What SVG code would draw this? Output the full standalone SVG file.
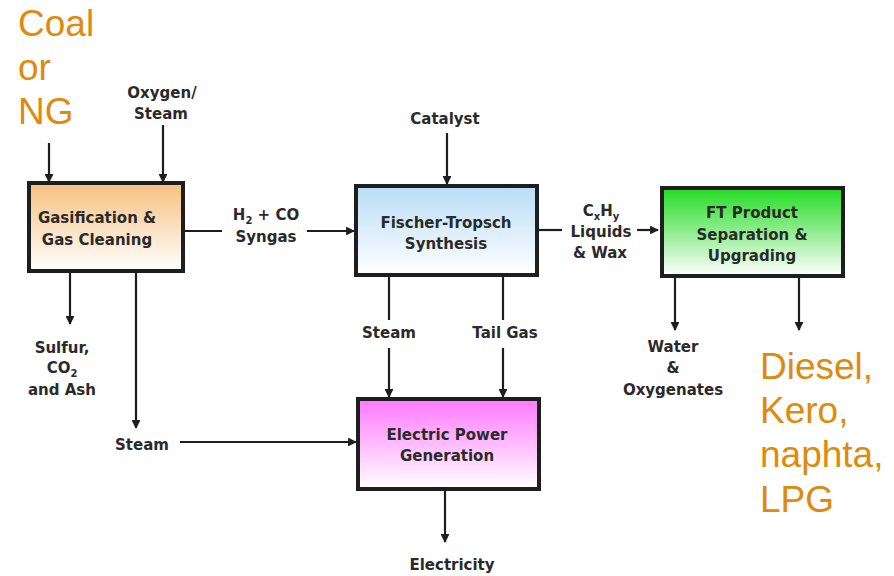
<svg xmlns="http://www.w3.org/2000/svg" width="894" height="576" viewBox="0 0 894 576">
<defs>
<style>
.t{font-family:"DejaVu Sans",sans-serif;font-weight:bold;font-size:15px;fill:#2a2a2a;text-anchor:middle}
.o{font-family:"Liberation Sans",Arial,sans-serif;font-size:37px;fill:#E08A0C}
.box{stroke:#1e1e1e;stroke-width:4}
.ln{stroke:#1e1e1e;stroke-width:2.2;fill:none}
.sub{font-size:10px}
</style>
<linearGradient id="gOr" x1="0" y1="0" x2="0" y2="1"><stop offset="0" stop-color="#F6C080"/><stop offset="1" stop-color="#FFFFFF"/></linearGradient>
<linearGradient id="gBl" x1="0" y1="0" x2="0" y2="1"><stop offset="0" stop-color="#B8DDF6"/><stop offset="1" stop-color="#FFFFFF"/></linearGradient>
<linearGradient id="gGr" x1="0" y1="0" x2="0" y2="1"><stop offset="0" stop-color="#22DC22"/><stop offset="1" stop-color="#FFFFFF"/></linearGradient>
<linearGradient id="gPk" x1="0" y1="0" x2="0" y2="1"><stop offset="0" stop-color="#FF78FF"/><stop offset="1" stop-color="#FFFFFF"/></linearGradient>
<marker id="ah" viewBox="0 0 10 10" refX="9" refY="5" markerWidth="4" markerHeight="4" orient="auto" markerUnits="strokeWidth"><path d="M0,0 L10,5 L0,10 z" fill="#1e1e1e"/></marker>
</defs>

<g id="connectors">
<line class="ln" x1="49" y1="143" x2="49" y2="182" marker-end="url(#ah)"/>
<line class="ln" x1="163" y1="125" x2="163" y2="182" marker-end="url(#ah)"/>
<line class="ln" x1="184" y1="231" x2="222" y2="231"/>
<line class="ln" x1="307" y1="231" x2="354" y2="231" marker-end="url(#ah)"/>
<line class="ln" x1="447" y1="133" x2="447" y2="184" marker-end="url(#ah)"/>
<line class="ln" x1="539" y1="230" x2="562" y2="230"/>
<line class="ln" x1="637" y1="230" x2="658" y2="230" marker-end="url(#ah)"/>
<line class="ln" x1="70" y1="272" x2="70" y2="324" marker-end="url(#ah)"/>
<line class="ln" x1="136" y1="272" x2="136" y2="428" marker-end="url(#ah)"/>
<line class="ln" x1="180" y1="442" x2="356" y2="442" marker-end="url(#ah)"/>
<line class="ln" x1="389" y1="277" x2="389" y2="320"/>
<line class="ln" x1="389" y1="348" x2="389" y2="397" marker-end="url(#ah)"/>
<line class="ln" x1="503" y1="277" x2="503" y2="320"/>
<line class="ln" x1="503" y1="348" x2="503" y2="397" marker-end="url(#ah)"/>
<line class="ln" x1="445" y1="491" x2="445" y2="542" marker-end="url(#ah)"/>
<line class="ln" x1="675" y1="278" x2="675" y2="330" marker-end="url(#ah)"/>
<line class="ln" x1="799" y1="278" x2="799" y2="330" marker-end="url(#ah)"/>
</g>

<g id="gasification">
<rect class="box" x="29" y="183" width="154" height="88" fill="url(#gOr)"/>
<text class="t" x="97" y="223">Gasification &amp;</text>
<text class="t" x="97" y="245">Gas Cleaning</text>
</g>

<g id="ft-synthesis">
<rect class="box" x="356" y="186" width="181" height="89" fill="url(#gBl)"/>
<text class="t" x="446" y="228">Fischer-Tropsch</text>
<text class="t" x="446" y="249">Synthesis</text>
</g>

<g id="ft-product">
<rect class="box" x="662" y="188" width="181" height="88" fill="url(#gGr)"/>
<text class="t" x="752" y="218">FT Product</text>
<text class="t" x="752" y="240">Separation &amp;</text>
<text class="t" x="752" y="261">Upgrading</text>
</g>

<g id="power">
<rect class="box" x="358" y="399" width="181" height="90" fill="url(#gPk)"/>
<text class="t" x="447" y="440">Electric Power</text>
<text class="t" x="447" y="461">Generation</text>
</g>

<g id="labels">
<text class="o" x="18" y="36">Coal</text>
<text class="o" x="18" y="80">or</text>
<text class="o" x="18" y="124">NG</text>
<text class="t" x="162" y="98">Oxygen/</text>
<text class="t" x="161" y="119">Steam</text>
<text class="t" x="266" y="220">H<tspan class="sub" dy="4">2</tspan><tspan dy="-4"> + CO</tspan></text>
<text class="t" x="266" y="242">Syngas</text>
<text class="t" x="445" y="124">Catalyst</text>
<text class="t" x="601" y="216">C<tspan class="sub" dy="4">x</tspan><tspan dy="-4">H</tspan><tspan class="sub" dy="4">y</tspan></text>
<text class="t" x="601" y="237">Liquids</text>
<text class="t" x="600" y="258">&amp; Wax</text>
<text class="t" x="62" y="353">Sulfur,</text>
<text class="t" x="62" y="373">CO<tspan class="sub" dy="4">2</tspan></text>
<text class="t" x="62" y="395">and Ash</text>
<text class="t" x="142" y="450">Steam</text>
<text class="t" x="389" y="338">Steam</text>
<text class="t" x="505" y="338">Tail Gas</text>
<text class="t" x="452" y="570">Electricity</text>
<text class="t" x="673" y="352">Water</text>
<text class="t" x="673" y="373">&amp;</text>
<text class="t" x="673" y="395">Oxygenates</text>
<text class="o" x="760" y="379">Diesel,</text>
<text class="o" x="760" y="423">Kero,</text>
<text class="o" x="760" y="467">naphta,</text>
<text class="o" x="760" y="512">LPG</text>
</g>
</svg>
